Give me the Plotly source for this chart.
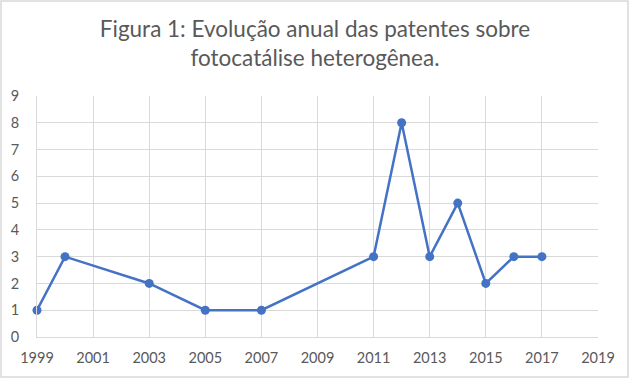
import plotly.graph_objects as go

years = [1999, 2000, 2003, 2005, 2007, 2011, 2012, 2013, 2014, 2015, 2016, 2017]
patents = [1, 3, 2, 1, 1, 3, 8, 3, 5, 2, 3, 3]
title_text = "Figura 1: Evolução anual das patentes sobre<br>fotocatálise heterogênea."

W, H = 630, 379
L, R, T, B = 37, 32, 96, 42
pw, ph = W - L - R, H - T - B

fig = go.Figure()
fig.add_trace(go.Scatter(
    x=years, y=patents, mode="lines+markers",
    line=dict(color="#4472C4", width=2.5),
    marker=dict(color="#4472C4", size=9),
    cliponaxis=False, showlegend=False,
))

fig.update_layout(
    width=W, height=H,
    margin=dict(l=L, r=R, t=T, b=B),
    paper_bgcolor="white", plot_bgcolor="white",
    font=dict(family="Lato, Carlito, sans-serif", color="#595959", size=14.5),
    title=dict(text=title_text, x=0.5, xanchor="center", y=1 - 37 / H, yanchor="middle",
               font=dict(size=22.5, color="#595959")),
    xaxis=dict(range=[1999, 2019], tick0=1999, dtick=2, showgrid=True, gridcolor="#D9D9D9",
               gridwidth=1, showline=True, linecolor="#D9D9D9", linewidth=1, mirror=False,
               ticks="", zeroline=False, ticklabelstandoff=8),
    yaxis=dict(range=[0, 9], dtick=1, showgrid=True, gridcolor="#D9D9D9", gridwidth=1,
               showline=True, linecolor="#D9D9D9", linewidth=1, ticks="", zeroline=False,
               ticklabelstandoff=14),
)

fig.add_shape(type="rect", xref="paper", yref="paper",
              x0=(1 - L) / pw, x1=1 + (R - 2) / pw,
              y0=-(B - 2) / ph, y1=1 + (T - 1) / ph,
              line=dict(color="#D9D9D9", width=1.5), layer="below")

fig.write_html("out.html", config={"displayModeBar": False},
               post_script="document.body.style.margin='0';")
